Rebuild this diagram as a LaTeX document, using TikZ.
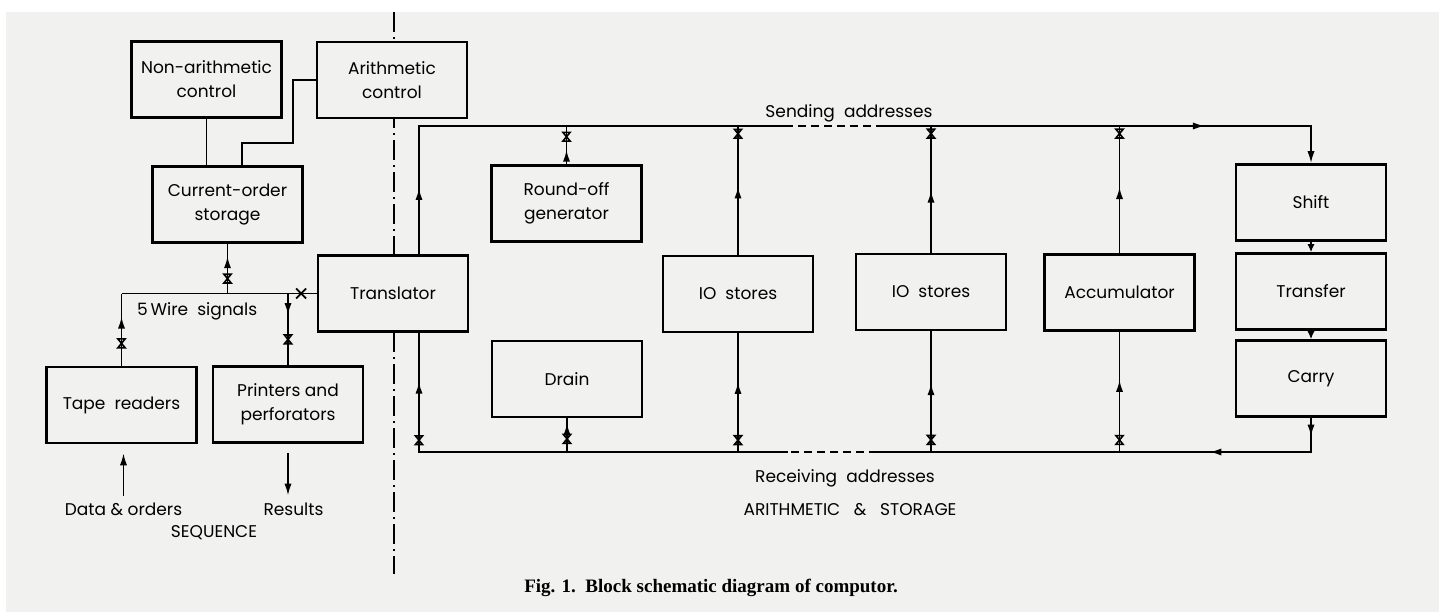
\documentclass[tikz,border=0pt]{standalone}
\usepackage{fontspec}
\setmainfont{Poppins}
\newfontfamily\legende{Liberation Serif}
\usetikzlibrary{arrows.meta,calc,decorations.markings}

\definecolor{papier}{RGB}{241,241,239}

\tikzset{
  bloc/.style={draw, line width=1.3pt, fill=papier, align=center,
    minimum width=75pt, minimum height=38pt, inner sep=1pt,
    font=\fontsize{8.5}{12}\selectfont},
  etiq/.style={font=\fontsize{8.5}{10}\selectfont},
  fil/.style={line width=0.9pt},
  fleche/.style={postaction={decorate, decoration={markings,
    mark=at position #1 with {\arrow{Latex[length=6pt,width=3.6pt]}}}}},
  porte/.style={postaction={decorate, decoration={markings,
    mark=at position #1 with {\draw[line width=0.8pt] (-2.2pt,-1.8pt) -- (2.2pt,1.8pt) -- (2.2pt,-1.8pt) -- (-2.2pt,1.8pt) -- cycle;}}}},
  croix/.style={postaction={decorate, decoration={markings,
    mark=at position #1 with {\draw[line width=0.9pt] (-2.5pt,-2.5pt) -- (2.5pt,2.5pt) (-2.5pt,2.5pt) -- (2.5pt,-2.5pt);}}}},
}

\begin{document}
\begin{tikzpicture}[x=0.5pt, y=-0.5pt]
    \useasboundingbox (0,0) rectangle (1439,612);
    \fill[papier] (6,12) rectangle (1439,612);

    % Separation
    \draw[line width=0.7pt, dash pattern=on 10pt off 2.5pt on 1pt off 2.5pt] (394,12) -- (394,574);

    % Sequence
    \node[bloc] (nonarith) at (206.5,79.5) {Non-arithmetic\\control};
    \node[bloc] (arith) at (392,80) {Arithmetic\\control};
    \node[bloc] (cos) at (227.5,204.5) {Current-order\\storage};
    \node[bloc] (transl) at (393,293.5) {Translator};
    \node[bloc] (tape) at (121.5,405) {Tape\ \ readers};
    \node[bloc] (printers) at (288,404.5) {Printers and\\perforators};

    \node[etiq, anchor=west] (wires) at (130,311) {5\,Wire\ \ signals};
    \node[etiq] (data) at (123.5,509) {Data \& orders};
    \node[etiq] (results) at (293.5,509) {Results};
    \node[etiq] (sequence) at (214,533) {SEQUENCE};

    \coordinate (busL) at (tape.north |- transl.west);
    \coordinate (busC) at (cos.south |- transl.west);
    \coordinate (busP) at (printers.north |- transl.west);
    \coordinate (coude) at (293,143);

    \draw[fil] (nonarith.south) -- (nonarith.south |- cos.north);
    \draw[fil] (arith.west) -| (coude) -| ($(cos.north)+(14.5,0)$);
    \draw[fil, croix=0.92] (busL) -- (transl.west);
    \draw[fil, porte=0.3, fleche=0.75] (busC) -- (cos.south);
    \draw[fil, porte=0.31, fleche=0.68] (tape.north) -- (busL);
    \draw[fil, fleche=0.3, porte=0.64] (busP) -- (printers.north);
    \draw[fil, -{Latex[length=6pt,width=3.6pt]}, shorten >=4.5pt] (data.north) -- (data.north |- tape.south);
    \draw[fil, -{Latex[length=6pt,width=3.6pt]}, shorten <=4.5pt] (printers.south) -- (printers.south |- results.north);

    % Arithmetique et memoire
    \node[bloc] (roundoff) at (566.5,203.5) {Round-off\\generator};
    \node[bloc] (drain) at (567,379) {Drain};
    \node[bloc] (io1) at (738,294) {IO\ \ stores};
    \node[bloc] (io2) at (931,292) {IO\ \ stores};
    \node[bloc] (acc) at (1119.5,292.5) {Accumulator};
    \node[bloc] (shift) at (1311,202.5) {Shift};
    \node[bloc] (transfer) at (1311,291.5) {Transfer};
    \node[bloc] (carry) at (1311,378.5) {Carry};

    \node[etiq] (sending) at (849,113) {Sending\ \ addresses};
    \node[etiq] (receiving) at (845,478) {Receiving\ \ addresses};
    \node[etiq] (arithstore) at (850,510) {ARITHMETIC\ \ \ \&\ \ \ STORAGE};

    \coordinate (tN) at ($(transl.north)+(26,0)$);
    \coordinate (tS) at ($(transl.south)+(26,0)$);
    \coordinate (sNW) at (419,126);
    \coordinate (sNE) at (shift.north |- sNW);
    \coordinate (rSW) at (419,452);
    \coordinate (rSE) at (carry.south |- rSW);
    \coordinate (s1) at (785,126);
    \coordinate (s2) at (880,126);
    \coordinate (r1) at (877,452);
    \coordinate (r2) at (788,452);

    % Adresses d'envoi
    \draw[fil, fleche=0.134] (tN) -- (sNW) -- (s1);
    \draw[fil, dash pattern=on 4pt off 2.5pt] (s1) -- (s2);
    \draw[fil, fleche=0.694, -{Latex[length=6pt,width=3.6pt]}] (s2) -- (sNE) -- (shift.north);
    \foreach \b/\f/\p in {roundoff/0.38/0.72, io1/0.53/0.94, io2/0.49/0.94, acc/0.52/0.94} {
      \draw[fil, fleche=\f, porte=\p] (\b.north) -- (\b.north |- sNW);
    }

    % Adresses de reception
    \draw[fil, fleche=0.04, fleche=0.29] (carry.south) -- (rSE) -- (r1);
    \draw[fil, dash pattern=on 4pt off 2.5pt] (r1) -- (r2);
    \draw[fil, porte=0.78, fleche=0.9] (r2) -- (rSW) -- (tS);
    \foreach \b/\f/\p in {drain/0.86/0.39, io1/0.59/0.1, io2/0.57/0.1, acc/0.6/0.1} {
      \draw[fil, porte=\p, fleche=\f] (\b.south |- rSW) -- (\b.south);
    }

    \draw[fil, -{Latex[length=4pt,width=3.6pt]}] (shift) -- (transfer);
    \draw[fil, -{Latex[length=4pt,width=3.6pt]}] (transfer) -- (carry);

    % Legende
    \node[font=\legende\bfseries\fontsize{9.5}{11}\selectfont] (caption) at (711,588)
      {Fig. 1.\ \ Block schematic diagram of computor.};
  \end{tikzpicture}
\end{document}
